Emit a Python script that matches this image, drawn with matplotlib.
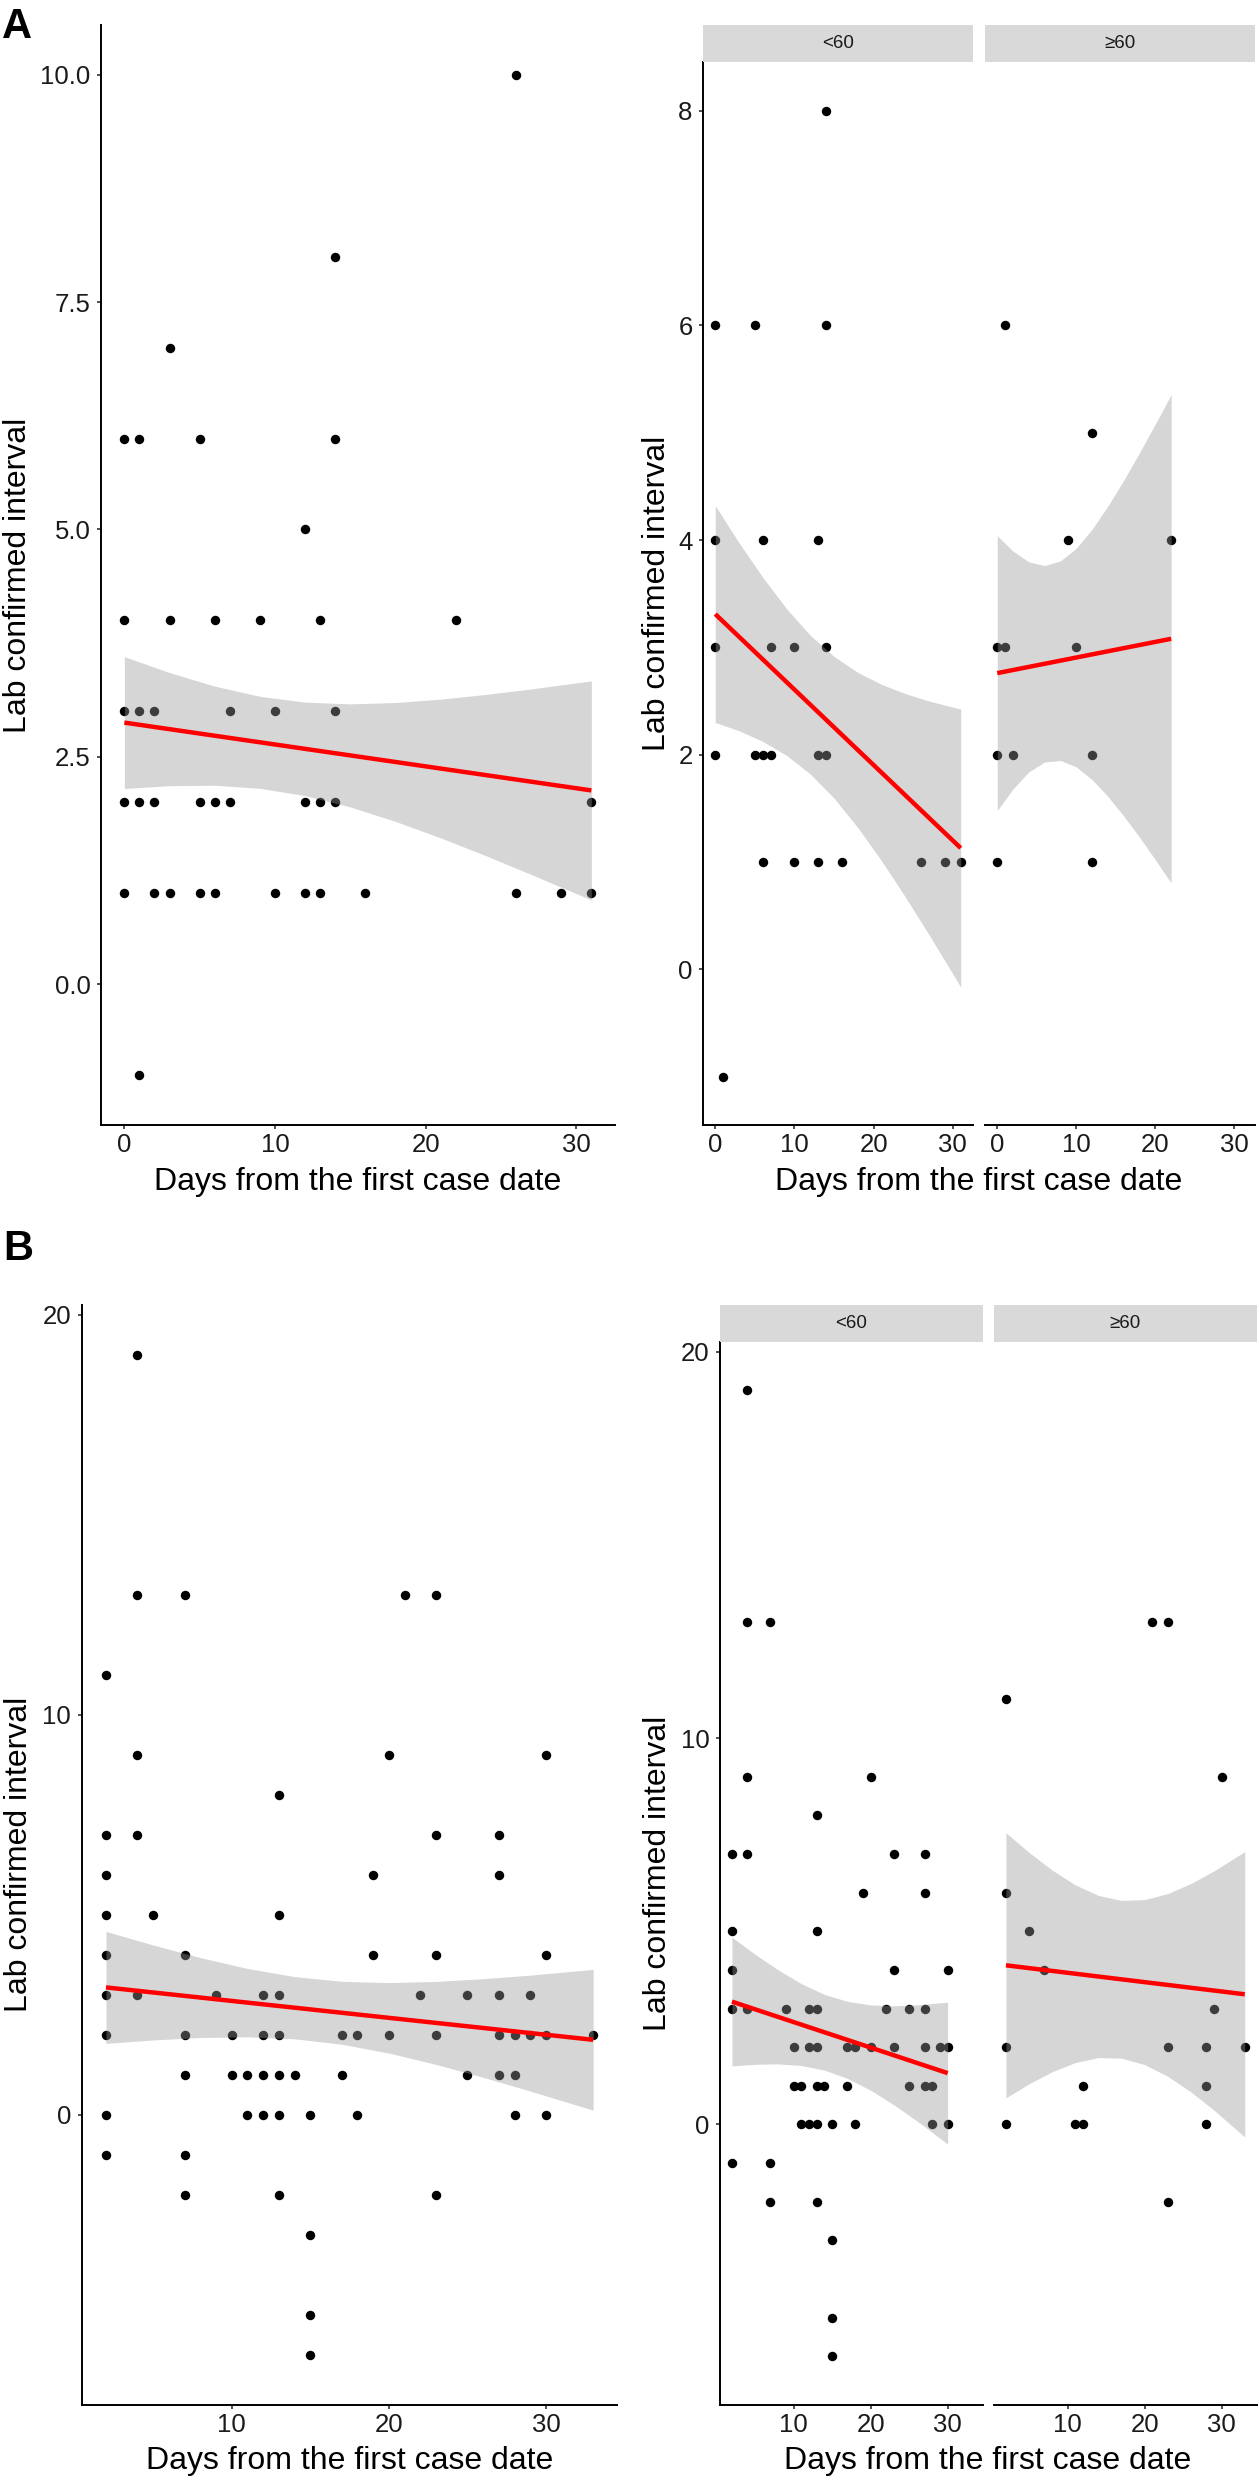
import numpy as np
import matplotlib
matplotlib.use("Agg")
import matplotlib.pyplot as plt

plt.rcParams['font.family'] = ['Liberation Sans', 'DejaVu Sans']

W, H = 1259, 2481

# ---------------- data ----------------
# Panel A, all cases
a_all_days = [26, 14, 3, 0, 1, 5, 14, 12, 0, 3, 6, 9, 13, 22, 0, 1, 2, 7, 10, 14,
              0, 1, 2, 5, 6, 7, 12, 13, 14, 31, 0, 2, 3, 5, 6, 10, 12, 13, 16, 26, 29, 31, 1]
a_all_interval = [10, 8, 7, 6, 6, 6, 6, 5, 4, 4, 4, 4, 4, 4, 3, 3, 3, 3, 3, 3,
                  2, 2, 2, 2, 2, 2, 2, 2, 2, 2, 1, 1, 1, 1, 1, 1, 1, 1, 1, 1, 1, 1, -1]
# Panel A, age < 60
a_young_days = [14, 0, 5, 14, 0, 6, 13, 0, 7, 10, 14, 0, 5, 6, 7, 13, 14, 6, 10, 13, 16, 26, 29, 31, 1]
a_young_interval = [8, 6, 6, 6, 4, 4, 4, 3, 3, 3, 3, 2, 2, 2, 2, 2, 2, 1, 1, 1, 1, 1, 1, 1, -1]
# Panel A, age >= 60
a_old_days = [1, 12, 9, 22, 0, 1, 10, 0, 2, 12, 0, 12]
a_old_interval = [6, 5, 4, 4, 3, 3, 3, 2, 2, 2, 1, 1]

# Panel B, all cases
b_all_days = [4, 4, 7, 21, 23, 2, 4, 20, 30, 13, 2, 4, 23, 27, 2, 19, 27, 2, 5, 13,
              2, 7, 19, 23, 30, 2, 4, 9, 12, 13, 22, 25, 27, 29,
              2, 7, 10, 12, 13, 17, 18, 20, 23, 27, 28, 29, 30, 33,
              7, 10, 11, 12, 13, 14, 17, 25, 27, 28, 2, 11, 12, 13, 15, 18, 28, 30,
              2, 7, 7, 13, 23, 15, 15, 15]
b_all_interval = [19, 13, 13, 13, 13, 11, 9, 9, 9, 8, 7, 7, 7, 7, 6, 6, 6, 5, 5, 5,
                  4, 4, 4, 4, 4, 3, 3, 3, 3, 3, 3, 3, 3, 3,
                  2, 2, 2, 2, 2, 2, 2, 2, 2, 2, 2, 2, 2, 2,
                  1, 1, 1, 1, 1, 1, 1, 1, 1, 1, 0, 0, 0, 0, 0, 0, 0, 0,
                  -1, -1, -2, -2, -2, -3, -5, -6]
# Panel B, age < 60
b_young_days = [4, 4, 7, 4, 20, 13, 2, 4, 23, 27, 19, 27, 2, 13, 2, 23, 30,
                2, 4, 9, 12, 13, 22, 25, 27, 10, 12, 13, 17, 18, 20, 23, 27, 29, 30,
                10, 11, 13, 14, 17, 25, 27, 28, 11, 12, 13, 15, 18, 28, 30,
                2, 7, 7, 13, 15, 15, 15]
b_young_interval = [19, 13, 13, 9, 9, 8, 7, 7, 7, 7, 6, 6, 5, 5, 4, 4, 4,
                    3, 3, 3, 3, 3, 3, 3, 3, 2, 2, 2, 2, 2, 2, 2, 2, 2, 2,
                    1, 1, 1, 1, 1, 1, 1, 1, 0, 0, 0, 0, 0, 0, 0,
                    -1, -1, -2, -2, -3, -5, -6]
# Panel B, age >= 60
b_old_days = [21, 23, 2, 30, 2, 5, 7, 29, 2, 23, 28, 33, 12, 28, 2, 11, 12, 28, 23]
b_old_interval = [13, 13, 11, 9, 6, 5, 4, 3, 2, 2, 2, 2, 1, 1, 0, 0, 0, 0, -2]

# Fitted linear trends and 95% bands
a_all_line_days = [0, 31]
a_all_line_val = [2.876, 2.13]
a_all_band_days = [0, 3, 6, 9, 12, 15, 18, 21, 24, 27, 31]
a_all_band_lo = [2.151, 2.182, 2.187, 2.153, 2.073, 1.948, 1.789, 1.608, 1.412, 1.206, 0.925]
a_all_band_hi = [3.601, 3.426, 3.277, 3.165, 3.101, 3.082, 3.097, 3.134, 3.186, 3.246, 3.335]

a_young_line_days = [0, 31]
a_young_line_val = [3.31, 1.13]
a_young_band_days = [0, 3, 6, 9, 12, 15, 18, 21, 24, 27, 31]
a_young_band_lo = [2.300, 2.223, 2.124, 1.994, 1.820, 1.595, 1.321, 1.011, 0.675, 0.322, -0.165]
a_young_band_hi = [4.320, 3.975, 3.652, 3.360, 3.112, 2.915, 2.767, 2.655, 2.569, 2.500, 2.425]

a_old_line_days = [0, 22]
a_old_line_val = [2.76, 3.08]
a_old_band_days = [0, 2, 4, 6, 8, 10, 12, 14, 16, 18, 20, 22]
a_old_band_lo = [1.480, 1.682, 1.840, 1.932, 1.946, 1.886, 1.768, 1.611, 1.429, 1.231, 1.021, 0.805]
a_old_band_hi = [4.040, 3.896, 3.796, 3.762, 3.806, 3.924, 4.101, 4.316, 4.557, 4.813, 5.081, 5.355]

b_all_line_days = [2, 33]
b_all_line_val = [3.18, 1.87]
b_all_band_days = [2, 5, 8, 11, 14, 17, 20, 23, 26, 29, 33]
b_all_band_lo = [1.780, 1.866, 1.927, 1.945, 1.895, 1.759, 1.538, 1.255, 0.933, 0.589, 0.110]
b_all_band_hi = [4.580, 4.240, 3.925, 3.653, 3.449, 3.333, 3.300, 3.329, 3.397, 3.487, 3.630]

b_young_line_days = [2, 30]
b_young_line_val = [3.18, 1.33]
b_young_band_days = [2, 5, 8, 11, 14, 17, 20, 23, 26, 30]
b_young_band_lo = [1.515, 1.558, 1.568, 1.526, 1.407, 1.192, 0.887, 0.511, 0.093, -0.507]
b_young_band_hi = [4.845, 4.406, 4.000, 3.645, 3.367, 3.186, 3.095, 3.073, 3.096, 3.167]

b_old_line_days = [2, 33]
b_old_line_val = [4.12, 3.37]
b_old_band_days = [2, 5, 8, 11, 14, 17, 20, 23, 26, 29, 33]
b_old_band_lo = [0.690, 1.053, 1.366, 1.602, 1.731, 1.716, 1.550, 1.247, 0.844, 0.372, -0.325]
b_old_band_hi = [7.550, 7.041, 6.584, 6.202, 5.929, 5.798, 5.821, 5.977, 6.236, 6.562, 7.065]

strip_labels = ["<60", "\u226560"]
x_title = "Days from the first case date"
y_title = "Lab confirmed interval"
a_x_ticks = [0, 10, 20, 30]
a_all_y_ticks = [0.0, 2.5, 5.0, 7.5, 10.0]
a_facet_y_ticks = [0, 2, 4, 6, 8]
b_x_ticks = [10, 20, 30]
b_y_ticks = [0, 10, 20]

# ---------------- drawing ----------------
TICK_FS = 18.5
TITLE_FS = 23
STRIP_FS = 13.5

fig = plt.figure(figsize=(W / 100, H / 100), dpi=100)
fig.patch.set_facecolor('white')


def rect(x0, y0, x1, y1):
    return [x0 / W, 1 - y1 / H, (x1 - x0) / W, (y1 - y0) / H]


def expand(vals):
    lo, hi = min(vals), max(vals)
    d = (hi - lo) * 0.05
    return lo - d, hi + d


def panel(box, days, vals, band_d, band_lo, band_hi, line_d, line_v,
          xlim, ylim, xticks, yticks, ylabels=None, left=True):
    ax = fig.add_axes(rect(*box))
    ax.plot(days, vals, 'o', color='black', ms=6.8, mew=0, zorder=2, clip_on=False)
    ax.fill_between(band_d, band_lo, band_hi, color='#999999', alpha=0.4, lw=0, zorder=3)
    ax.plot(line_d, line_v, color='#FF0000', lw=3.2, zorder=4, solid_capstyle='butt')
    ax.set_xlim(*xlim)
    ax.set_ylim(*ylim)
    for s in ['top', 'right']:
        ax.spines[s].set_visible(False)
    ax.spines['bottom'].set_linewidth(1.4)
    ax.spines['left'].set_linewidth(1.4)
    ax.set_xticks(xticks)
    ax.set_xticklabels([str(t) for t in xticks])
    ax.tick_params(axis='both', length=3, width=1.2, color='#333333',
                   labelsize=TICK_FS, labelcolor='#1a1a1a')
    ax.tick_params(axis='x', pad=3)
    ax.tick_params(axis='y', pad=4.5)
    if left:
        ax.set_yticks(yticks)
        ax.set_yticklabels(ylabels if ylabels else [str(t) for t in yticks])
    else:
        ax.spines['left'].set_visible(False)
        ax.set_yticks(yticks)
        ax.tick_params(axis='y', left=False, labelleft=False)
    ax.set_facecolor('none')
    return ax


def strip(box, label):
    ax = fig.add_axes(rect(*box))
    ax.set_facecolor('#D9D9D9')
    for s in ax.spines.values():
        s.set_visible(False)
    ax.set_xticks([])
    ax.set_yticks([])
    ax.text(0.5, 0.5, label, ha='center', va='center', fontsize=STRIP_FS,
            color='#1a1a1a', transform=ax.transAxes)


def ftext(x, y, s, **kw):
    fig.text(x / W, 1 - y / H, s, **kw)


# ----- Panel A -----
a_xlim = expand(a_young_days + a_old_days + a_all_days)
a_all_ylim = expand(a_all_interval)
a_fac_ylim = expand(a_young_interval + a_old_interval)

panel((101, 24.9, 614.7, 1125), a_all_days, a_all_interval,
      a_all_band_days, a_all_band_lo, a_all_band_hi, a_all_line_days, a_all_line_val,
      a_xlim, a_all_ylim, a_x_ticks, a_all_y_ticks,
      ylabels=['%.1f' % t for t in a_all_y_ticks])
panel((703, 62.4, 973, 1125), a_young_days, a_young_interval,
      a_young_band_days, a_young_band_lo, a_young_band_hi, a_young_line_days, a_young_line_val,
      a_xlim, a_fac_ylim, a_x_ticks, a_facet_y_ticks)
panel((985, 62.4, 1254.5, 1125), a_old_days, a_old_interval,
      a_old_band_days, a_old_band_lo, a_old_band_hi, a_old_line_days, a_old_line_val,
      a_xlim, a_fac_ylim, a_x_ticks, a_facet_y_ticks, left=False)
strip((703, 24.9, 973, 62.4), strip_labels[0])
strip((985, 24.9, 1254.5, 62.4), strip_labels[1])

# ----- Panel B -----
b_xlim = expand(b_all_days + b_young_days + b_old_days)
b_ylim = expand(b_all_interval + b_young_interval + b_old_interval)

panel((81.6, 1304.6, 617.5, 2404.6), b_all_days, b_all_interval,
      b_all_band_days, b_all_band_lo, b_all_band_hi, b_all_line_days, b_all_line_val,
      b_xlim, b_ylim, b_x_ticks, b_y_ticks)
panel((720, 1342.1, 982.7, 2404.6), b_young_days, b_young_interval,
      b_young_band_days, b_young_band_lo, b_young_band_hi, b_young_line_days, b_young_line_val,
      b_xlim, b_ylim, b_x_ticks, b_y_ticks)
panel((994, 1342.1, 1256.7, 2404.6), b_old_days, b_old_interval,
      b_old_band_days, b_old_band_lo, b_old_band_hi, b_old_line_days, b_old_line_val,
      b_xlim, b_ylim, b_x_ticks, b_y_ticks, left=False)
strip((720, 1304.6, 982.7, 1342.1), strip_labels[0])
strip((994, 1304.6, 1256.7, 1342.1), strip_labels[1])

# ----- titles and tags -----
ftext(2, 38.3, "A", fontsize=30, fontweight='bold', ha='left', va='baseline')
ftext(3, 1260, "B", fontsize=30, fontweight='bold', ha='left', va='baseline')

ftext(358, 1189.7, x_title, fontsize=TITLE_FS, ha='center', va='baseline', color='black')
ftext(979, 1189.7, x_title, fontsize=TITLE_FS, ha='center', va='baseline', color='black')
ftext(350, 2469.3, x_title, fontsize=TITLE_FS, ha='center', va='baseline', color='black')
ftext(988, 2469.3, x_title, fontsize=TITLE_FS, ha='center', va='baseline', color='black')

ftext(18, 575, y_title, fontsize=TITLE_FS, rotation=90, ha='center', va='center')
ftext(657, 593.7, y_title, fontsize=TITLE_FS, rotation=90, ha='center', va='center')
ftext(19, 1854.6, y_title, fontsize=TITLE_FS, rotation=90, ha='center', va='center')
ftext(658, 1873, y_title, fontsize=TITLE_FS, rotation=90, ha='center', va='center')

fig.savefig("out.png", dpi=100, facecolor='white')
